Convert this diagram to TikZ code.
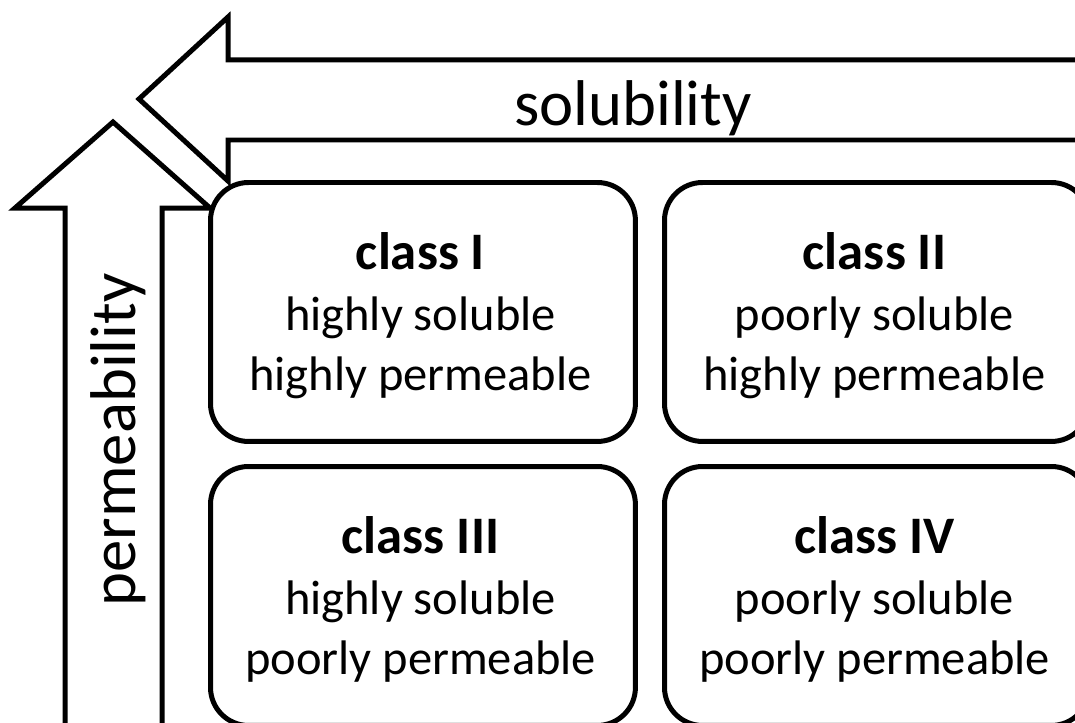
\documentclass[tikz,border=0pt]{standalone}
\usepackage{fontspec}
\setmainfont{Carlito}
\begin{document}
\begin{tikzpicture}[x=0.02cm,y=-0.02cm,
  outline/.style={draw, line width=0.1cm, line join=miter, fill=white},
  classbox/.style={draw, line width=0.1cm, rounded corners=0.76cm, fill=white,
    minimum width=8.5cm, minimum height=5.18cm, inner sep=0pt, anchor=north west},
  axislabel/.style={font=\fontsize{36.8}{40}\selectfont, inner sep=0pt, anchor=base},
  titletext/.style={font=\fontsize{30}{32}\selectfont\bfseries, inner sep=0pt, anchor=base},
  bodytext/.style={font=\fontsize{27.6}{30}\selectfont, inner sep=0pt, anchor=base}]
\useasboundingbox (0,0) rectangle (1075,723);
\clip (0,0) rectangle (1075,723);
% solubility arrow (pointing left)
\draw[outline] (139,99) -- (228,17) -- (228,60) -- (1110,60) -- (1110,140)
  -- (228,140) -- (228,181) -- cycle;
\node[axislabel] (sol) at (633,126) {solubility};
% permeability arrow (pointing up)
\draw[outline] (113,122) -- (210,208) -- (162,208) -- (162,750) -- (65,750)
  -- (65,208) -- (15,208) -- cycle;
\node[axislabel, rotate=90] (perm) at (135,440) {permeability};
% class boxes
\node[classbox] (b1) at (208,180) {};
\node[classbox] (b2) at (662,180) {};
\node[classbox] (b3) at (208,464) {};
\node[classbox] (b4) at (662,464) {};
% box texts
\node[titletext] (t1) at (420.5,269) {class I};
\node[bodytext] (s1) at (420.5,330) {highly soluble};
\node[bodytext] (p1) at (420.5,390) {highly permeable};
\node[titletext] (t2) at (874.5,269) {class II};
\node[bodytext] (s2) at (874.5,330) {poorly soluble};
\node[bodytext] (p2) at (874.5,390) {highly permeable};
\node[titletext] (t3) at (420.5,553) {class III};
\node[bodytext] (s3) at (420.5,614) {highly soluble};
\node[bodytext] (p3) at (420.5,674) {poorly permeable};
\node[titletext] (t4) at (874.5,553) {class IV};
\node[bodytext] (s4) at (874.5,614) {poorly soluble};
\node[bodytext] (p4) at (874.5,674) {poorly permeable};
\end{tikzpicture}
\end{document}
